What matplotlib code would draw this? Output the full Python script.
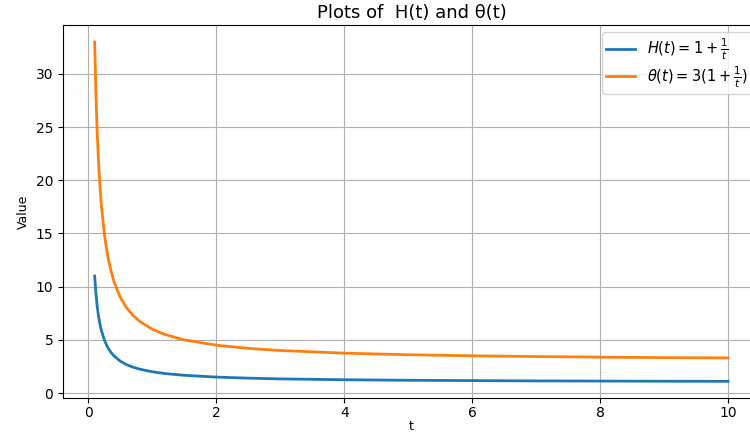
import matplotlib
matplotlib.use("Agg")
import matplotlib.pyplot as plt

# values
t = [0.1, 0.12, 0.14, 0.16, 0.18, 0.2, 0.25, 0.3, 0.35, 0.4, 0.5, 0.6, 0.7, 0.8,
     1.0, 1.2, 1.5, 2.0, 2.5, 3.0, 4.0, 5.0, 6.0, 7.0, 8.0, 9.0, 10.0]
H = [11.0, 9.33, 8.14, 7.25, 6.56, 6.0, 5.0, 4.33, 3.86, 3.5, 3.0, 2.67, 2.43, 2.25,
     2.0, 1.83, 1.67, 1.5, 1.4, 1.33, 1.25, 1.2, 1.17, 1.14, 1.125, 1.11, 1.1]
theta = [33.0, 28.0, 24.4, 21.75, 19.7, 18.0, 15.0, 13.0, 11.6, 10.5, 9.0, 8.0, 7.3, 6.75,
         6.0, 5.5, 5.0, 4.5, 4.2, 4.0, 3.75, 3.6, 3.5, 3.43, 3.375, 3.33, 3.3]

fig = plt.figure(figsize=(7.5, 4.32), dpi=100)
# right edge of the axes sits just past the picture, as in the cropped reference
ax = fig.add_axes([0.084, 0.078, 0.929, 0.864])

ax.plot(t, H, lw=2, color='#1f77b4', label=r'$H(t) = 1 + \frac{1}{t}$')
ax.plot(t, theta, lw=2, color='#ff7f0e', label=r'$\theta(t) = 3(1 + \frac{1}{t})$')

ax.set_title('Plots of  H(t) and θ(t)', fontsize=13, pad=5)
ax.set_xlabel('t', labelpad=0, fontsize=9)
ax.set_ylabel('Value', fontsize=9)
ax.tick_params(axis='x', pad=2)
ax.grid(True)
ax.legend(loc='upper right', fontsize=10.5, labelspacing=0.15, borderpad=0.3)

fig.savefig('out.png', dpi=100)
